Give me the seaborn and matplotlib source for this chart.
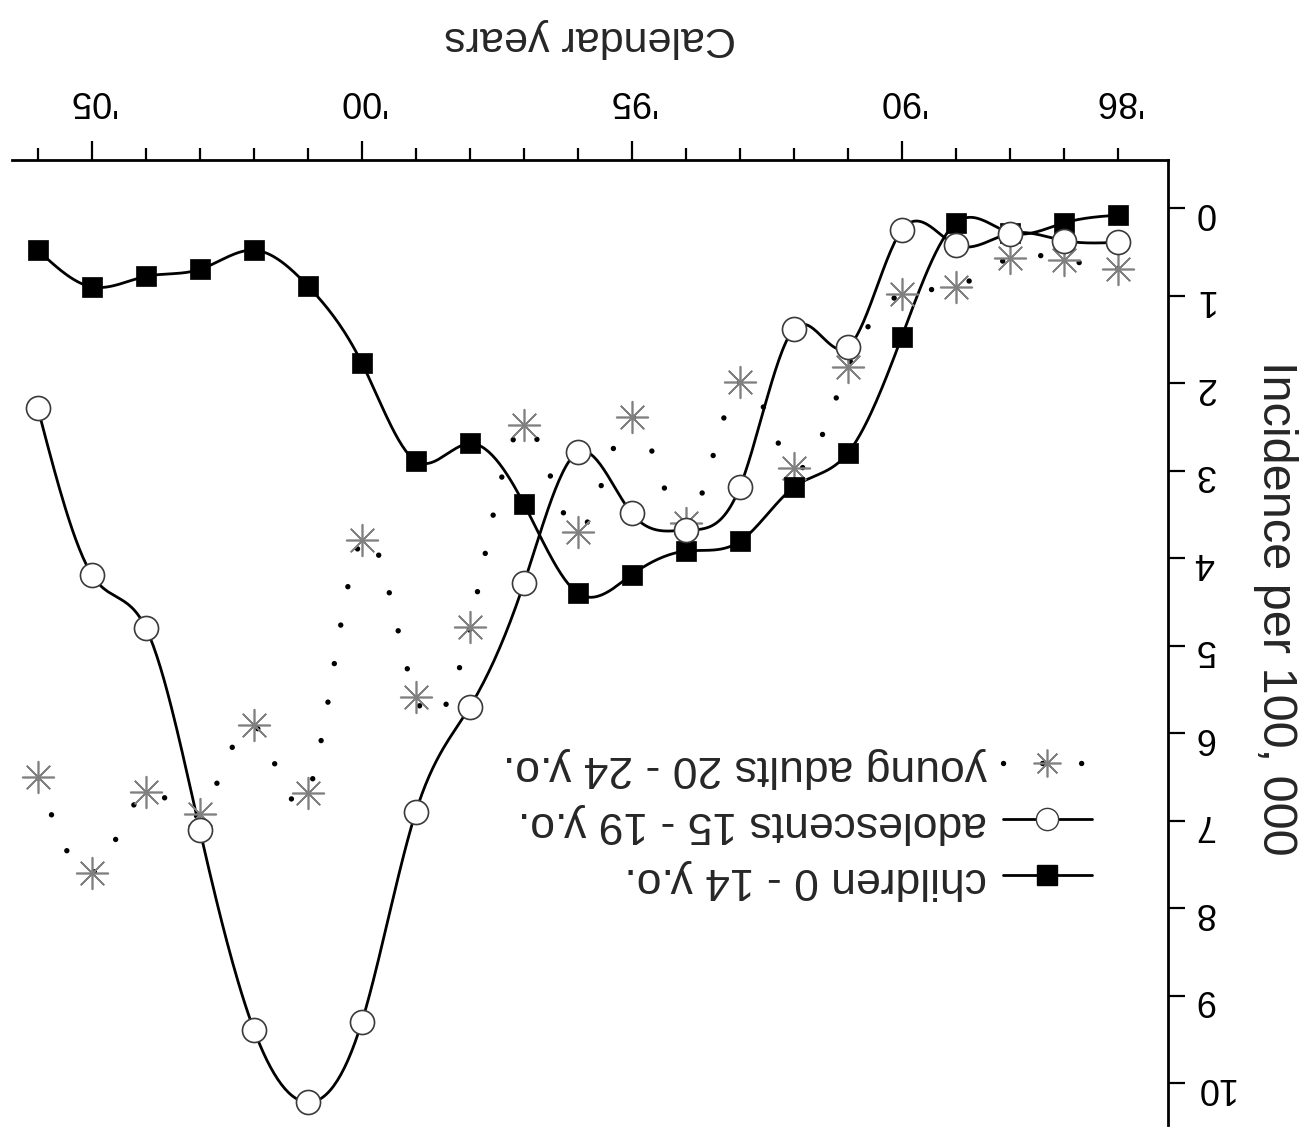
import numpy as np
import pandas as pd
import matplotlib
matplotlib.use("Agg")
import matplotlib.pyplot as plt
import seaborn as sns
from matplotlib.lines import Line2D
from matplotlib.ticker import FixedLocator, FuncFormatter

# ---------------- data ----------------
years = list(range(1986, 2007))
children = [0.08, 0.17, 0.28, 0.17, 1.47, 2.80, 3.19, 3.81, 3.92, 4.19, 4.40,
            3.38, 2.69, 2.89, 1.77, 0.89, 0.48, 0.70, 0.78, 0.90, 0.48]
adolescents = [0.39, 0.37, 0.29, 0.42, 0.25, 1.59, 1.38, 3.19, 3.68, 3.49, 2.79,
               4.29, 5.70, 6.90, 9.30, 10.22, 9.39, 7.11, 4.80, 4.19, 2.29]
young_adults = [0.69, 0.59, 0.57, 0.90, 0.98, 1.82, 2.97, 1.99, 3.60, 2.39, 3.70,
                2.48, 4.79, 5.59, 3.79, 6.69, 5.91, 6.92, 6.67, 7.60, 6.50]
series_labels = ["children 0 - 14 y.o.", "adolescents 15 - 19 y.o.",
                 "young adults 20 - 24 y.o."]
year_tick_values = [1986, 1990, 1995, 2000, 2005]
year_tick_labels = ["'86", "'90", "'95", "'00", "'05"]
y_ticks = list(range(0, 11))
x_label = "Calendar years"
y_label = "Incidence per 100, 000"

df = pd.DataFrame({"year": years, "children": children,
                   "adolescents": adolescents, "young": young_adults})


def spline_curve(x, y, n=600):
    """Natural cubic spline through the given points (for drawing the connector)."""
    x = np.asarray(x, float)
    y = np.asarray(y, float)
    m = len(x)
    h = np.diff(x)
    A = np.zeros((m, m))
    b = np.zeros(m)
    A[0, 0] = 1.0
    A[-1, -1] = 1.0
    for i in range(1, m - 1):
        A[i, i - 1] = h[i - 1]
        A[i, i] = 2 * (h[i - 1] + h[i])
        A[i, i + 1] = h[i]
        b[i] = 3 * ((y[i + 1] - y[i]) / h[i] - (y[i] - y[i - 1]) / h[i - 1])
    c = np.linalg.solve(A, b)
    bb = (y[1:] - y[:-1]) / h - h * (2 * c[:-1] + c[1:]) / 3
    d = (c[1:] - c[:-1]) / (3 * h)
    xs = np.linspace(x[0], x[-1], n)
    idx = np.clip(np.searchsorted(x, xs) - 1, 0, m - 2)
    t = xs - x[idx]
    ys = y[idx] + bb[idx] * t + c[idx] * t ** 2 + d[idx] * t ** 3
    return xs, ys


# ---------------- style ----------------
sns.set_style("white")
plt.rcParams["font.family"] = ["Liberation Sans", "DejaVu Sans"]

fig = plt.figure(figsize=(13.04, 11.35), dpi=100)
ax = fig.add_axes([0.0092, 0.0088, 0.8865, 0.8502])
ax.set_facecolor("white")

DOTS = (0, (0.01, 7.2))

# connectors
xs, ys = spline_curve(df["year"], df["children"])
ax.plot(xs, ys, color="black", lw=2.0, zorder=2)
xs, ys = spline_curve(df["year"], df["adolescents"])
ax.plot(xs, ys, color="black", lw=2.0, zorder=2)
xs, ys = spline_curve(df["year"], df["young"])
ax.plot(xs, ys, color="black", lw=3.9, linestyle=DOTS,
        dash_capstyle="round", zorder=2)

# markers
sns.scatterplot(data=df, x="year", y="young", marker=(8, 2, 0), s=520,
                color="#808080", linewidth=1.2, zorder=3, legend=False, ax=ax)
sns.scatterplot(data=df, x="year", y="children", marker="s", s=220,
                color="black", edgecolor="black", linewidth=0.5, zorder=4,
                legend=False, ax=ax)
sns.scatterplot(data=df, x="year", y="adolescents", marker="o", s=300,
                color="white", edgecolor="#3a3a3a", linewidth=1.2, zorder=5,
                legend=False, ax=ax)

# axes: drawn upside down (rotated 180 degrees)
ax.set_xlim(2006.48, 1985.07)
ax.set_ylim(10.48, -0.55)

for side in ["left", "bottom"]:
    ax.spines[side].set_visible(False)
for side in ["top", "right"]:
    ax.spines[side].set_visible(True)
    ax.spines[side].set_linewidth(2.0)
    ax.spines[side].set_color("black")

ax.xaxis.tick_top()
ax.yaxis.tick_right()
ax.xaxis.set_label_position("top")
ax.yaxis.set_label_position("right")

major_years = [v for v in year_tick_values if v % 5 == 0]
ax.xaxis.set_major_locator(FixedLocator(major_years))
ax.xaxis.set_minor_locator(FixedLocator(years))
lab_map = dict(zip(year_tick_values, year_tick_labels))
ax.xaxis.set_major_formatter(FuncFormatter(lambda v, p: lab_map.get(int(round(v)), "")))
ax.xaxis.set_minor_formatter(FuncFormatter(lambda v, p: lab_map.get(int(round(v)), "")))
ax.set_yticks(y_ticks)
ax.set_yticklabels([str(v) for v in y_ticks])

ax.tick_params(axis="x", which="major", direction="out", length=14, width=1.6,
               pad=16, labelsize=26, labelrotation=180, colors="black")
ax.tick_params(axis="x", which="minor", direction="out", length=9, width=1.6,
               pad=21, labelsize=26, labelrotation=180, colors="black")
ax.tick_params(axis="y", which="major", direction="out", length=12, width=1.6,
               pad=7, labelsize=26, labelrotation=180, colors="black")

ax.set_xlabel(x_label, fontsize=31, rotation=180, labelpad=25)
ax.set_ylabel(y_label, fontsize=35, rotation=270, labelpad=46)
ax.yaxis.label.set_y(0.535)
ax.grid(False)

# legend (upside down, handles on the right)
h_child = Line2D([], [], color="black", lw=2.0, marker="s", markersize=14,
                 markerfacecolor="black", markeredgecolor="black")
h_ado = Line2D([], [], color="black", lw=2.0, marker="o", markersize=16,
               markerfacecolor="white", markeredgecolor="#3a3a3a")
h_young = Line2D([], [], color="black", lw=3.9, linestyle=DOTS,
                 dash_capstyle="round", marker=(8, 2, 0), markersize=20,
                 markeredgecolor="#808080", markeredgewidth=1.2)
leg = ax.legend([h_young, h_ado, h_child],
                [series_labels[2], series_labels[1], series_labels[0]],
                loc="lower right", bbox_to_anchor=(0.868, 0.172),
                bbox_transform=fig.transFigure, frameon=False,
                markerfirst=False, fontsize=32, handlelength=2.0,
                handletextpad=0.35, labelspacing=0.34)
for t in leg.get_texts():
    t.set_rotation(180)

fig.savefig("out.png", dpi=100)
